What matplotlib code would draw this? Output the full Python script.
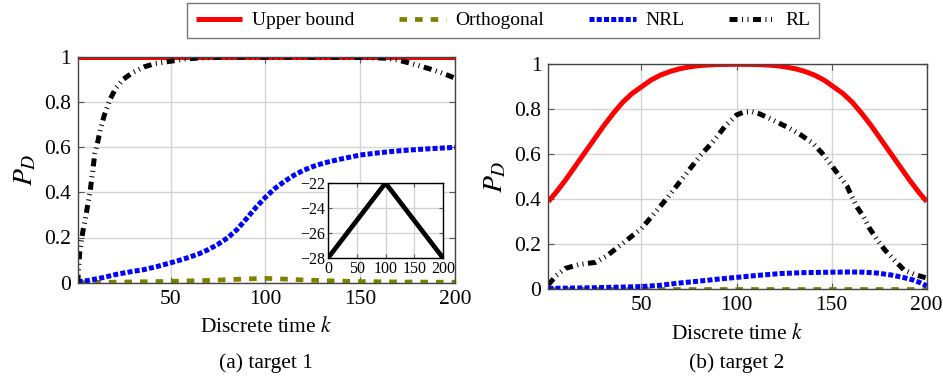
import numpy as np
import matplotlib
matplotlib.use("Agg")
from matplotlib import pyplot as plt

plt.rcParams['font.family'] = ['Liberation Serif', 'DejaVu Serif']
plt.rcParams['mathtext.fontset'] = 'stix'

# target 1 (left panel)
k1_upper = [1, 200]
pd1_upper = [1.0, 1.0]
k1_orth = [1, 25, 50, 70, 85, 95, 100, 105, 115, 130, 150, 175, 200]
pd1_orth = [0.0, 0.003, 0.006, 0.010, 0.015, 0.018, 0.019, 0.018, 0.014, 0.009, 0.005, 0.003, 0.002]
k1_nrl = [1, 6, 14, 22, 30, 36, 43, 50, 55, 60, 65, 70, 75, 80, 85, 90, 95, 100, 105, 110, 115,
          120, 125, 131, 137, 143, 150, 160, 171, 185, 200]
pd1_nrl = [0.005, 0.009, 0.022, 0.038, 0.050, 0.058, 0.072, 0.088, 0.100, 0.113, 0.128, 0.147,
           0.170, 0.198, 0.235, 0.283, 0.333, 0.378, 0.417, 0.448, 0.475, 0.497, 0.514, 0.530,
           0.542, 0.553, 0.565, 0.575, 0.584, 0.592, 0.599]
k1_rl = [1, 2, 3, 4, 5, 6, 7.5, 9, 10, 11.5, 13, 15, 18, 21, 25, 30, 36, 42, 50, 58, 66, 80, 100,
         120, 140, 155, 164, 170, 176, 182, 189, 195, 200]
pd1_rl = [0.0, 0.13, 0.19, 0.24, 0.28, 0.33, 0.40, 0.50, 0.57, 0.62, 0.68, 0.74, 0.81, 0.86, 0.90,
          0.93, 0.955, 0.97, 0.98, 0.99, 0.995, 0.998, 0.998, 0.998, 0.997, 0.996, 0.993, 0.985,
          0.972, 0.958, 0.94, 0.922, 0.905]

# inset (SNR profile of target 1)
k_inset = [0, 100, 200]
snr_inset = [-28, -22, -28]

# target 2 (right panel)
k2_upper = [1, 5, 10, 15, 20, 25, 30, 35, 40, 45, 50, 55, 60, 65, 70, 75, 80, 85, 90, 100,
            111, 116, 121, 126, 131, 136, 141, 146, 151, 156, 161, 166, 171, 176, 181, 186,
            191, 196, 200]
pd2_upper = [0.39, 0.43, 0.485, 0.545, 0.605, 0.665, 0.725, 0.78, 0.83, 0.87, 0.90, 0.93, 0.952,
             0.968, 0.98, 0.988, 0.994, 0.997, 0.999, 1.0, 0.999, 0.997, 0.994, 0.988, 0.98,
             0.968, 0.952, 0.93, 0.90, 0.87, 0.83, 0.78, 0.725, 0.665, 0.605, 0.545, 0.485,
             0.43, 0.39]
k2_orth = [1, 50, 100, 150, 200]
pd2_orth = [0.002, 0.002, 0.002, 0.002, 0.002]
k2_nrl = [1, 25, 50, 60, 70, 80, 90, 100, 110, 123, 135, 150, 160, 167, 174, 181, 187, 193, 197, 200]
pd2_nrl = [0.004, 0.007, 0.012, 0.018, 0.028, 0.036, 0.045, 0.053, 0.061, 0.070, 0.074, 0.076,
           0.077, 0.076, 0.072, 0.064, 0.054, 0.041, 0.028, 0.015]
k2_rl = [1, 5, 10, 17, 26, 32, 38, 44, 50, 56, 63, 69, 75, 81, 88, 94, 100, 104, 108, 112, 116,
         122, 128, 134, 140, 145, 150, 154, 158, 163, 167, 170, 174, 178, 183, 188, 194, 200]
pd2_rl = [0.02, 0.06, 0.093, 0.11, 0.12, 0.15, 0.19, 0.23, 0.27, 0.33, 0.40, 0.465, 0.53, 0.595,
          0.66, 0.725, 0.775, 0.788, 0.79, 0.78, 0.765, 0.74, 0.715, 0.685, 0.65, 0.605, 0.55, 0.505,
          0.46, 0.37, 0.32, 0.27, 0.22, 0.175, 0.13, 0.086, 0.065, 0.05]

W, H = 943, 381
fig = plt.figure(figsize=(W / 100, H / 100), dpi=100)

ax1 = fig.add_axes([77.7 / W, 1 - 282.7 / H, 377.3 / W, 226 / H])
ax2 = fig.add_axes([548.3 / W, 1 - 289.3 / H, 378.4 / W, 225 / H])

styles = {
    'upper': dict(color='red', lw=3.6, solid_capstyle='butt', solid_joinstyle='round'),
    'orth': dict(color='#808000', lw=3.4, dashes=(1.6, 1.7), dash_capstyle='butt'),
    'nrl': dict(color='blue', lw=3.6, dashes=(1.0, 0.45), dash_capstyle='butt'),
    'rl': dict(color='black', lw=3.6, dashes=(1.6, 0.9, 0.2, 0.9, 0.2, 0.9), dash_capstyle='butt'),
}

def setup(ax):
    ax.set_xlim(1, 200)
    ax.set_ylim(0, 1)
    ax.set_xticks([50, 100, 150, 200])
    ax.set_yticks([0, 0.2, 0.4, 0.6, 0.8, 1])
    ax.set_yticklabels(['0', '0.2', '0.4', '0.6', '0.8', '1'])
    ax.grid(True, color='#d4d4d4', lw=1.0)
    ax.set_axisbelow(True)
    ax.tick_params(direction='in', length=4, width=0.8, color='#555555',
                   labelsize=15.5, top=True, right=True, pad=5)
    for s in ax.spines.values():
        s.set_color('#444444')
        s.set_linewidth(1.0)
    ax.set_xlabel('Discrete time $k$', fontsize=15.5, labelpad=6)
    ax.set_ylabel('$P_D$', fontsize=20, labelpad=4)

setup(ax1)
ax1.plot(k1_upper, pd1_upper, label='Upper bound', **styles['upper'])
ax1.plot(k1_orth, pd1_orth, label='Orthogonal', **styles['orth'])
ax1.plot(k1_nrl, pd1_nrl, label='NRL', **styles['nrl'])
ax1.plot(k1_rl, pd1_rl, label='RL', **styles['rl'])

setup(ax2)
ax2.plot(k2_upper, pd2_upper, **styles['upper'])
ax2.plot(k2_orth, pd2_orth, **styles['orth'])
ax2.plot(k2_nrl, pd2_nrl, **styles['nrl'])
ax2.plot(k2_rl, pd2_rl, **styles['rl'])

# inset
axi = fig.add_axes([328 / W, 1 - 258 / H, 115 / W, 75 / H])
axi.plot(k_inset, snr_inset, color='black', lw=3.4, solid_capstyle='butt')
axi.set_xlim(0, 200)
axi.set_ylim(-28, -22)
axi.set_xticks([0, 50, 100, 150, 200])
axi.set_yticks([-28, -26, -24, -22])
axi.set_yticklabels(['\u221228', '\u221226', '\u221224', '\u221222'])
axi.grid(True, color='#d4d4d4', lw=1.0)
axi.tick_params(direction='in', length=3, width=0.8, color='#555555', labelsize=11.5, pad=2,
                top=True, right=True)
for s in axi.spines.values():
    s.set_color('black')
    s.set_linewidth(1.0)

fig.text(266 / W, 1 - 363 / H, '(a) target 1', fontsize=15.5, ha='center', va='center')
fig.text(737 / W, 1 - 363 / H, '(b) target 2', fontsize=15.5, ha='center', va='center')

leg = fig.legend(loc='upper center', bbox_to_anchor=(503 / W, 1 - 3 / H), ncol=4,
                 fontsize=14, frameon=True, fancybox=False, edgecolor='#555555',
                 handlelength=2.4, columnspacing=2.3, handletextpad=0.5, borderpad=0.45,
                 borderaxespad=0)
leg.get_frame().set_linewidth(1.0)

fig.savefig('out.png', dpi=100)
